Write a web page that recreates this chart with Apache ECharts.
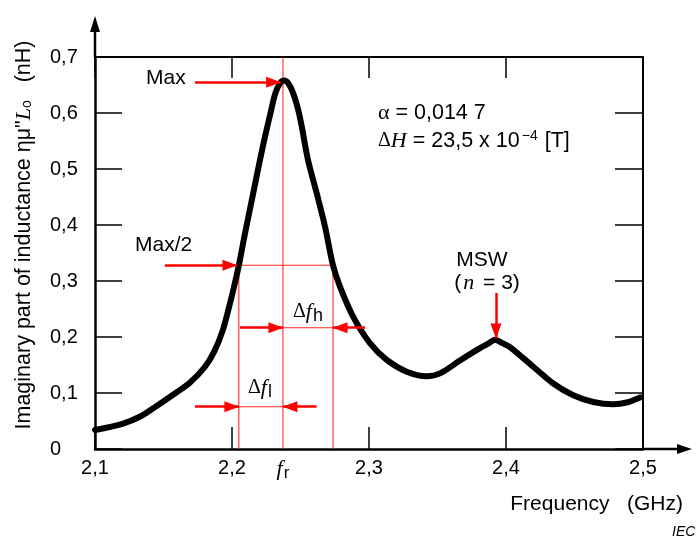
<!DOCTYPE html>
<html>
<head>
<meta charset="utf-8">
<script src="https://cdn.jsdelivr.net/npm/echarts@6/dist/echarts.min.js"></script>
<style>html,body{margin:0;padding:0;background:#fff;}#c{width:700px;height:539px;}</style>
</head>
<body>
<div id="c"></div>
<script>
// ---- data ----
const freq = [2.100, 2.120, 2.133, 2.145, 2.157, 2.169, 2.180, 2.187, 2.193, 2.198, 2.2015, 2.205, 2.2095, 2.2155, 2.2204, 2.2241, 2.2286, 2.2316, 2.2350, 2.2380, 2.2411, 2.2447, 2.2484, 2.2509, 2.2555, 2.2618, 2.2679, 2.2737, 2.2788, 2.2885, 2.3007, 2.3129, 2.3275, 2.3421, 2.3518, 2.3664, 2.3810, 2.3870, 2.3920, 2.3975, 2.4029, 2.4199, 2.4345, 2.4491, 2.4637, 2.4783, 2.4881, 2.4978];
const inductance = [0.034, 0.045, 0.058, 0.077, 0.097, 0.118, 0.146, 0.174, 0.210, 0.255, 0.290, 0.328, 0.385, 0.457, 0.516, 0.558, 0.605, 0.635, 0.653, 0.658, 0.653, 0.635, 0.605, 0.576, 0.516, 0.457, 0.397, 0.328, 0.290, 0.236, 0.189, 0.159, 0.138, 0.130, 0.135, 0.158, 0.180, 0.188, 0.195, 0.189, 0.182, 0.147, 0.117, 0.096, 0.084, 0.080, 0.083, 0.092];
const xTickLabels = ['2,1', '2,2', '2,3', '2,4', '2,5'];
const yTickLabels = ['0', '0,1', '0,2', '0,3', '0,4', '0,5', '0,6', '0,7'];

// annotation values (data units)
const fRes = 2.2372;
const fLow = 2.2050;
const fHigh = 2.2737;
const halfMax = 0.328;
const maxArrow = [2.173, 0.655, 2.2355, 0.655];
const halfArrow = [2.151, 0.328, 2.2036, 0.328];
const dfhArrowL = [2.2058, 0.2166, 2.2372, 0.2166];
const dfhArrowR = [2.2971, 0.2166, 2.2737, 0.2166];
const dflArrowL = [2.173, 0.0755, 2.2050, 0.0755];
const dflArrowR = [2.2618, 0.0755, 2.2372, 0.0755];
const mswArrow = [2.3927, 0.2786, 2.3927, 0.198];

const SANS = 'Liberation Sans, Arial, sans-serif';
const SERIF = 'Liberation Serif, Times New Roman, serif';
const RED = '#ff0000';
const THIN = '#ff2a2a';

function seg(a) { return [{ coord: [a[0], a[1]] }, { coord: [a[2], a[3]] }]; }

const chart = echarts.init(document.getElementById('c'), null, { renderer: 'canvas' });

const guideSegments = [
  [[fRes, 0], [fRes, 0.7]],
  [[fLow, 0], [fLow, halfMax]],
  [[fHigh, 0], [fHigh, halfMax]],
  [[fLow, halfMax], [fHigh, halfMax]],
  [[fRes, dfhArrowL[1]], [fHigh, dfhArrowL[1]]],
  [[fLow, dflArrowL[1]], [fRes, dflArrowL[1]]]
];
const guideSeries = guideSegments.map((s, i) => ({
  name: 'guide' + i, type: 'line', data: s, z: 2, silent: true,
  symbol: 'none', showSymbol: false,
  lineStyle: { color: THIN, width: 1.1 }, itemStyle: { color: THIN },
  emphasis: { disabled: true }
}));
const arrows = [maxArrow, halfArrow, dfhArrowL, dfhArrowR, dflArrowL, dflArrowR, mswArrow].map(seg);

const option = {
  animation: false,
  backgroundColor: '#fff',
  grid: { left: 95, right: 57, top: 57, bottom: 90, containLabel: false },
  xAxis: [{
    type: 'value', min: 2.1, max: 2.5, interval: 0.1, position: 'bottom',
    name: 'Frequency   (GHz)', nameLocation: 'end', nameGap: 40,
    nameTextStyle: { fontFamily: SANS, fontSize: 21, color: '#000', align: 'right', verticalAlign: 'top', padding: [45, 0, 0, 0] },
    axisLine: { show: true, onZero: false, lineStyle: { color: '#000', width: 2.5 } },
    axisTick: { show: true, inside: true, length: 22, lineStyle: { color: '#000', width: 1.5 } },
    axisLabel: { margin: 9, fontFamily: SANS, fontSize: 20, color: '#000',
      formatter: v => xTickLabels[Math.round((v - 2.1) / 0.1)] },
    splitLine: { show: false }
  }, {
    type: 'value', min: 2.1, max: 2.5, interval: 0.1, position: 'top',
    axisLine: { show: true, onZero: false, lineStyle: { color: '#000', width: 2 } },
    axisTick: { show: true, inside: true, length: 21, lineStyle: { color: '#000', width: 1.5 } },
    axisLabel: { show: false }, splitLine: { show: false }
  }],
  yAxis: [{
    type: 'value', min: 0, max: 0.7, interval: 0.1, position: 'left',
    name: '{a|Imaginary part of inductance ημ"}{l|L}{s|o}{a|   (nH)}',
    nameLocation: 'middle', nameRotate: 90, nameGap: 60,
    nameTextStyle: { color: '#000', padding: [0, 0, 0, 36],
      rich: {
        a: { fontFamily: SANS, fontSize: 21.5, color: '#000' },
        l: { fontFamily: SERIF, fontStyle: 'italic', fontSize: 22, color: '#000' },
        s: { fontFamily: SANS, fontSize: 14, color: '#000', padding: [6, 0, 0, 0] }
      } },
    axisLine: { show: true, onZero: false, lineStyle: { color: '#000', width: 2.5 } },
    axisTick: { show: true, inside: true, length: 27, lineStyle: { color: '#000', width: 1.5 } },
    axisLabel: { margin: 45, align: 'left', fontFamily: SANS, fontSize: 20, color: '#000',
      formatter: v => yTickLabels[Math.round(v / 0.1)] },
    splitLine: { show: false }
  }, {
    type: 'value', min: 0, max: 0.7, interval: 0.1, position: 'right',
    axisLine: { show: true, onZero: false, lineStyle: { color: '#000', width: 2 } },
    axisTick: { show: true, inside: true, length: 28, lineStyle: { color: '#000', width: 1.5 } },
    axisLabel: { show: false }, splitLine: { show: false }
  }],
  series: guideSeries.concat([{
    name: 'arrows', type: 'line', data: [], z: 4, silent: true,
    itemStyle: { color: RED },
    markLine: {
      silent: true, symbol: ['none', 'triangle'], symbolSize: [11, 15], symbolOffset: [0, [0, 7]],
      label: { show: false },
      lineStyle: { color: RED, width: 2.5, type: 'solid' },
      itemStyle: { color: RED },
      emphasis: { disabled: true },
      data: arrows
    }
  }, {
    name: 'ημ"L0', type: 'line', z: 3,
    data: freq.map((f, i) => [f, inductance[i]]),
    smooth: 0.3, showSymbol: false, symbol: 'none',
    lineStyle: { color: '#000', width: 6, cap: 'round', join: 'round' }
  }]),
  graphic: [
    // axis extensions with arrow heads
    { type: 'line', shape: { x1: 643, y1: 449, x2: 682, y2: 449 }, style: { stroke: '#000', lineWidth: 2.5 } },
    { type: 'polygon', shape: { points: [[692, 449], [677, 444], [677, 454]] }, style: { fill: '#000' } },
    { type: 'line', shape: { x1: 95, y1: 57, x2: 95, y2: 27 }, style: { stroke: '#000', lineWidth: 2.5 } },
    { type: 'polygon', shape: { points: [[95, 16], [90, 32], [100, 32]] }, style: { fill: '#000' } },
    // annotation texts
    { type: 'text', x: 146, y: 78, style: { text: 'Max', font: '21px ' + SANS, fill: '#000', align: 'left', verticalAlign: 'middle' } },
    { type: 'text', x: 135, y: 245, style: { text: 'Max/2', font: '21px ' + SANS, fill: '#000', align: 'left', verticalAlign: 'middle' } },
    { type: 'text', x: 293, y: 312, style: { text: '{d|Δ}{f|f}{h|h}', align: 'left', verticalAlign: 'middle',
      rich: { d: { fontFamily: SERIF, fontSize: 20, fill: '#000' }, f: { fontFamily: SERIF, fontStyle: 'italic', fontSize: 22, fill: '#000' }, h: { fontFamily: SANS, fontSize: 18, fill: '#000', padding: [8, 0, 0, 1] } } } },
    { type: 'text', x: 248, y: 388, style: { text: '{d|Δ}{f|f}{h|l}', align: 'left', verticalAlign: 'middle',
      rich: { d: { fontFamily: SERIF, fontSize: 20, fill: '#000' }, f: { fontFamily: SERIF, fontStyle: 'italic', fontSize: 22, fill: '#000' }, h: { fontFamily: SANS, fontSize: 18, fill: '#000', padding: [8, 0, 0, 1] } } } },
    { type: 'text', x: 283, y: 469, style: { text: '{f|f}{h|r}', align: 'center', verticalAlign: 'middle',
      rich: { f: { fontFamily: SERIF, fontStyle: 'italic', fontSize: 22, fill: '#000' }, h: { fontFamily: SANS, fontSize: 17, fill: '#000', padding: [8, 0, 0, 1] } } } },
    { type: 'text', x: 482, y: 260, style: { text: 'MSW', font: '21px ' + SANS, fill: '#000', align: 'center', verticalAlign: 'middle' } },
    { type: 'text', x: 487, y: 283, style: { text: '{a|(}{n|n}{a| = 3)}', align: 'center', verticalAlign: 'middle',
      rich: { a: { fontFamily: SANS, fontSize: 21, fill: '#000' }, n: { fontFamily: SERIF, fontStyle: 'italic', fontSize: 22, fill: '#000', padding: [0, 3, 0, 2] } } } },
    { type: 'text', x: 378, y: 113, style: { text: '{g|α}{a| = 0,014 7}', align: 'left', verticalAlign: 'middle',
      rich: { g: { fontFamily: SERIF, fontSize: 22, fill: '#000' }, a: { fontFamily: SANS, fontSize: 21.5, fill: '#000' } } } },
    { type: 'text', x: 378, y: 141, style: { text: '{g|Δ}{h|H}{a| = 23,5 x 10}{s|−4}{a|[T]}', align: 'left', verticalAlign: 'middle',
      rich: { g: { fontFamily: SERIF, fontSize: 20, fill: '#000' }, h: { fontFamily: SERIF, fontStyle: 'italic', fontSize: 22, fill: '#000' },
        a: { fontFamily: SANS, fontSize: 21.5, fill: '#000' }, s: { fontFamily: SANS, fontSize: 14, fill: '#000', padding: [0, 7, 10, 2] } } } },
    { type: 'text', x: 672, y: 532, style: { text: 'IEC', font: 'italic 14px ' + SANS, fill: '#000', align: 'left', verticalAlign: 'middle' } }
  ]
};
chart.setOption(option);
</script>
</body>
</html>
